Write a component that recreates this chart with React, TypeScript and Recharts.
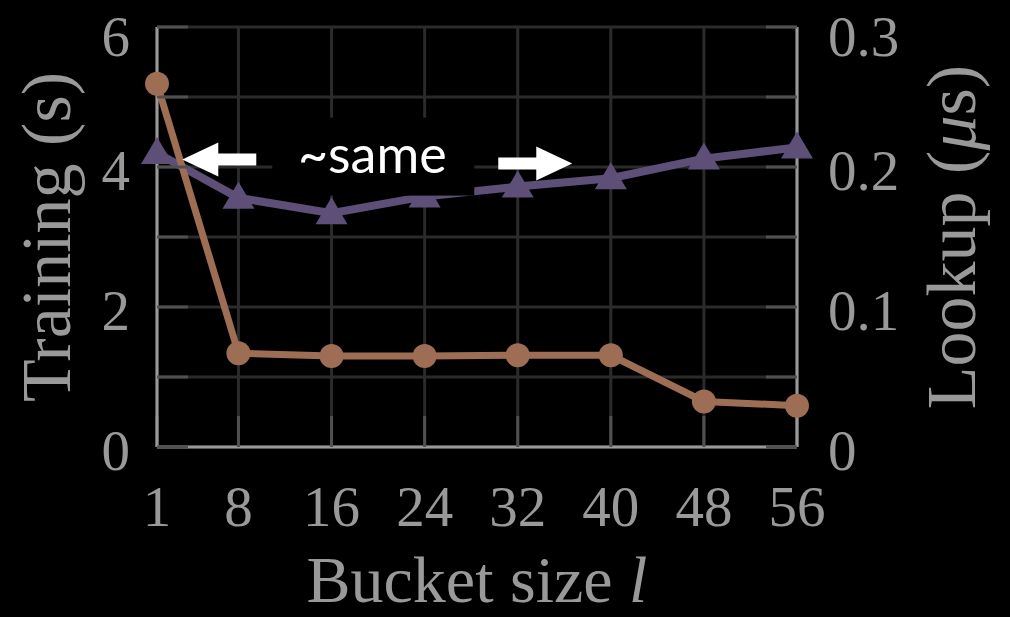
import { LineChart, Line, XAxis, YAxis, CartesianGrid, ReferenceDot } from "recharts";

const bucketSizes = [1, 8, 16, 24, 32, 40, 48, 56];
const trainingSeconds = [5.19, 1.34, 1.3, 1.3, 1.31, 1.31, 0.65, 0.59];
const lookupMicros = [0.21, 0.178, 0.167, 0.179, 0.186, 0.192, 0.206, 0.214];

const trainingTicks = [0, 1, 2, 3, 4, 5, 6];
const trainingTickLabels = ["0", "", "2", "", "4", "", "6"];
const lookupTicks = [0, 0.05, 0.1, 0.15, 0.2, 0.25, 0.3];
const lookupTickLabels = ["0", "", "0.1", "", "0.2", "", "0.3"];

const note = { bucket: 19.5, lookup: 0.206, text: "~same" };

const data = bucketSizes.map((b, i) => ({
  bucket: b,
  training: trainingSeconds[i],
  lookup: lookupMicros[i],
}));

const BROWN = "#9d6e53";
const PURPLE = "#5e4f78";
const GRAY = "#999999";
const GRID = "#2b2b2b";
const TICK = "#505050";
const SERIF = "Liberation Serif, serif";

const tickStyle = { fill: GRAY, fontSize: 57, fontFamily: SERIF };

function Triangle(props: any) {
  const { cx, cy, index } = props;
  if (cx == null || cy == null) return null;
  return (
    <path
      key={`tri-${index}`}
      d={`M${cx},${cy - 16} L${cx + 16},${cy + 11} L${cx - 16},${cy + 11} Z`}
      fill={PURPLE}
    />
  );
}

// arrow polygon, dir = -1 points left, 1 points right
function arrowPath(tipX: number, y: number, dir: number) {
  const head = 36;
  const half = 17;
  const shaft = 6;
  const len = 74;
  const bx = tipX - dir * head;
  const tx = tipX - dir * len;
  return `M${tipX},${y} L${bx},${y - half} L${bx},${y - shaft} L${tx},${y - shaft} L${tx},${y + shaft} L${bx},${y + shaft} L${bx},${y + half} Z`;
}

function SameNote(props: any) {
  const { cx, cy } = props;
  if (cx == null || cy == null) return null;
  return (
    <g>
      <rect x={cx - 100} y={cy - 41} width={202} height={78} fill="#000" />
      <text x={cx} y={cy + 14} textAnchor="middle" fill="#fff" fontSize={52} fontFamily="Lato">
        {note.text}
      </text>
      <path d={arrowPath(cx - 190, cy + 1, -1)} fill="#fff" />
      <path d={arrowPath(cx + 200, cy + 5, 1)} fill="#fff" />
    </g>
  );
}

export default function App() {
  return (
    <div
      style={{
        position: "absolute",
        left: 0,
        top: 0,
        width: 1010,
        height: 617,
        background: "#000",
        fontFamily: SERIF,
      }}
    >
      <LineChart
        width={1010}
        height={617}
        data={data}
        margin={{ top: 27, right: 0, bottom: 0, left: 0 }}
        style={{ fontFamily: SERIF }}
      >
        <CartesianGrid xAxisId="x" yAxisId="left" stroke={GRID} strokeWidth={3} />
        <XAxis
          xAxisId="x"
          dataKey="bucket"
          type="number"
          domain={[1, 56]}
          ticks={bucketSizes}
          height={170}
          tickSize={-31}
          tickMargin={70}
          tick={tickStyle}
          tickLine={{ stroke: TICK, strokeWidth: 3 }}
          axisLine={{ stroke: GRAY, strokeWidth: 3 }}
          label={{
            content: (p: any) => {
              const vb = p.viewBox || { x: 157, width: 640 };
              return (
                <text
                  x={vb.x + vb.width / 2}
                  y={602}
                  textAnchor="middle"
                  fill={GRAY}
                  fontSize={66}
                  fontFamily={SERIF}
                >
                  Bucket size <tspan fontStyle="italic">l</tspan>
                </text>
              );
            },
          }}
        />
        <XAxis
          xAxisId="top"
          orientation="top"
          dataKey="bucket"
          type="number"
          domain={[1, 56]}
          ticks={bucketSizes}
          height={0}
          tickSize={-31}
          tick={false}
          tickLine={{ stroke: TICK, strokeWidth: 3 }}
          axisLine={{ stroke: GRAY, strokeWidth: 3 }}
        />
        <YAxis
          yAxisId="left"
          domain={[0, 6]}
          ticks={trainingTicks}
          tickFormatter={(_v: number, i: number) => trainingTickLabels[i]}
          width={157}
          tickSize={-31}
          tickMargin={58}
          tick={{ ...tickStyle, dy: 3 }}
          tickLine={{ stroke: TICK, strokeWidth: 3 }}
          axisLine={{ stroke: GRAY, strokeWidth: 3 }}
          label={{
            content: (p: any) => {
              const vb = p.viewBox || { y: 27, height: 420 };
              const cy = vb.y + vb.height / 2;
              return (
                <text
                  x={70}
                  y={cy}
                  transform={`rotate(-90, 70, ${cy})`}
                  textAnchor="middle"
                  fill={GRAY}
                  fontSize={70}
                  fontFamily={SERIF}
                >
                  Training (s)
                </text>
              );
            },
          }}
        />
        <YAxis
          yAxisId="right"
          orientation="right"
          domain={[0, 0.3]}
          ticks={lookupTicks}
          tickFormatter={(_v: number, i: number) => lookupTickLabels[i]}
          width={213}
          tickSize={-31}
          tickMargin={62}
          tick={{ ...tickStyle, dy: 3 }}
          tickLine={{ stroke: TICK, strokeWidth: 3 }}
          axisLine={{ stroke: GRAY, strokeWidth: 3 }}
          label={{
            content: (p: any) => {
              const vb = p.viewBox || { y: 27, height: 420 };
              const cy = vb.y + vb.height / 2;
              return (
                <text
                  x={975}
                  y={cy}
                  transform={`rotate(-90, 975, ${cy})`}
                  textAnchor="middle"
                  fill={GRAY}
                  fontSize={70}
                  fontFamily={SERIF}
                >
                  Lookup (<tspan fontStyle="italic">μ</tspan>s)
                </text>
              );
            },
          }}
        />
        <Line
          xAxisId="x"
          yAxisId="right"
          dataKey="lookup"
          stroke={PURPLE}
          strokeWidth={8}
          dot={(p: any) => <Triangle {...p} />}
          activeDot={false}
          isAnimationActive={false}
        />
        <Line
          xAxisId="x"
          yAxisId="left"
          dataKey="training"
          stroke={BROWN}
          strokeWidth={7}
          dot={{ r: 12, fill: BROWN, stroke: BROWN, strokeWidth: 0 }}
          activeDot={false}
          isAnimationActive={false}
        />
        <ReferenceDot
          xAxisId="x"
          yAxisId="right"
          x={note.bucket}
          y={note.lookup}
          ifOverflow="visible"
          shape={(p: any) => <SameNote {...p} />}
        />
      </LineChart>
    </div>
  );
}
